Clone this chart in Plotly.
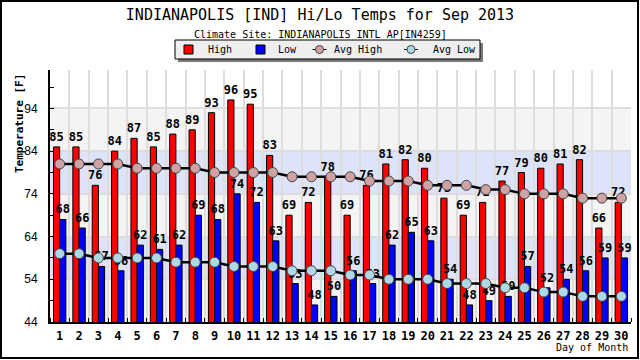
import plotly.graph_objects as go

days = list(range(1, 31))
high = [85, 85, 76, 84, 87, 85, 88, 89, 93, 96, 95, 83, 69, 72, 78, 69, 76, 81, 82, 80,
        73, 69, 72, 77, 79, 80, 81, 82, 66, 72]
low = [68, 66, 57, 56, 62, 61, 62, 69, 68, 74, 72, 63, 53, 48, 50, 56, 53, 62, 65, 63,
       54, 48, 49, 50, 57, 52, 54, 56, 59, 59]
avg_high = [81, 81, 81, 81, 80, 80, 80, 80, 79, 79, 79, 79, 78, 78, 78, 78, 77, 77, 77, 76,
            76, 76, 75, 75, 74, 74, 74, 73, 73, 73]
avg_low = [60, 60, 59, 59, 59, 59, 58, 58, 58, 57, 57, 57, 56, 56, 56, 55, 55, 54, 54, 54,
           53, 53, 53, 52, 52, 51, 51, 50, 50, 50]
y_ticks = [44, 54, 64, 74, 84, 94]
series_names = ["High", "Low", "Avg High", "Avg Low"]
bands = [(44, 54, "#f4f4f4"), (54, 64, "#dde4fa"), (64, 74, "#f4f4f4"),
         (74, 84, "#dde4fa"), (84, 94, "#f4f4f4")]

HIGH_C, LOW_C, AVGH_C, AVGL_C = "#ff0000", "#0000ff", "#cfa3a3", "#add8e6"

W, H = 640, 360
ML, MR, MT, MB = 50, 9, 70, 38
PW, PH = W - ML - MR, H - MT - MB


def px2x(px):
    return (px - ML) / PW


def px2y(py):
    return 1 - (py - MT) / PH


MONO = "DejaVu Sans Mono"

fig = go.Figure()
fig.add_trace(go.Bar(
    x=days, y=high, name=series_names[0], marker=dict(color=HIGH_C, line=dict(color="black", width=1)),
    text=high, textposition="outside", constraintext="none", cliponaxis=False,
    textfont=dict(family=MONO, size=12, color="black", weight="bold"),
))
fig.add_trace(go.Bar(
    x=days, y=low, name=series_names[1], marker=dict(color=LOW_C, line=dict(color="black", width=1)),
    text=low, textposition="outside", constraintext="none", cliponaxis=False,
    textfont=dict(family=MONO, size=12, color="black", weight="bold"),
))
fig.add_trace(go.Scatter(
    x=days, y=avg_high, name=series_names[2], mode="lines+markers",
    line=dict(color="black", width=2.5),
    marker=dict(symbol="circle", size=10, color=AVGH_C, line=dict(color="#444", width=1)),
))
fig.add_trace(go.Scatter(
    x=days, y=avg_low, name=series_names[3], mode="lines+markers",
    line=dict(color="black", width=2.5),
    marker=dict(symbol="circle", size=10, color=AVGL_C, line=dict(color="#444", width=1)),
))

shapes = []
for y0, y1, c in bands:
    shapes.append(dict(type="rect", xref="paper", yref="y", x0=0, x1=1, y0=y0, y1=y1,
                       fillcolor=c, line=dict(width=0), layer="below"))


def prect(x0, y0, x1, y1, **kw):
    d = dict(type="rect", xref="paper", yref="paper", x0=px2x(x0), x1=px2x(x1),
             y0=px2y(y1), y1=px2y(y0), layer="above")
    d.update(kw)
    return d


# legend box (drawn by hand to match the original layout)
lx0, ly0, lx1, ly1 = 175, 40, 480, 59
shapes.append(prect(lx0 + 3, ly0 + 3, lx1 + 3, ly1 + 3, fillcolor="#7a7a7a", line=dict(width=0)))
shapes.append(prect(lx0, ly0, lx1, ly1, fillcolor="#eeeeee", line=dict(color="black", width=1)))
ly = (ly0 + ly1) / 2
shapes.append(prect(184, ly - 4.5, 193, ly + 4.5, fillcolor=HIGH_C, line=dict(color="black", width=1)))
shapes.append(prect(256, ly - 4.5, 265, ly + 4.5, fillcolor=LOW_C, line=dict(color="black", width=1)))
for cx, col in [(319.5, AVGH_C), (411, AVGL_C)]:
    shapes.append(dict(type="line", xref="paper", yref="paper", x0=px2x(cx - 7), x1=px2x(cx + 7),
                       y0=px2y(ly), y1=px2y(ly), line=dict(color="black", width=1), layer="above"))
    shapes.append(dict(type="circle", xref="paper", yref="paper", x0=px2x(cx - 4), x1=px2x(cx + 4),
                       y0=px2y(ly + 4), y1=px2y(ly - 4), fillcolor=col,
                       line=dict(color="#444", width=1), layer="above"))

# outer frame
shapes.append(prect(1, 1, W - 2, H - 2, line=dict(color="black", width=2), fillcolor="rgba(0,0,0,0)"))

annotations = [
    dict(text="Climate Site: INDIANAPOLIS INTL AP[IN4259]", xref="paper", yref="paper",
         x=px2x(320), y=px2y(34), showarrow=False, xanchor="center", yanchor="middle",
         font=dict(family=MONO, size=10, color="black")),
    dict(text="Temperature [F]", xref="paper", yref="paper", x=px2x(19), y=px2y(124),
         showarrow=False, textangle=-90, xanchor="center", yanchor="middle",
         font=dict(family=MONO, size=11, color="black", weight="bold")),
    dict(text="Day of Month", xref="paper", yref="paper", x=px2x(630), y=px2y(347),
         showarrow=False, xanchor="right", yanchor="middle",
         font=dict(family=MONO, size=10, color="black")),
]
for name, tx in zip(series_names, [206, 276, 332, 431]):
    annotations.append(dict(text=name, xref="paper", yref="paper", x=px2x(tx), y=px2y(ly),
                            showarrow=False, xanchor="left", yanchor="middle",
                            font=dict(family=MONO, size=10, color="black")))

fig.update_layout(
    width=W, height=H,
    margin=dict(l=ML, r=MR, t=MT, b=MB, pad=0),
    paper_bgcolor="white", plot_bgcolor="white",
    barmode="group", bargap=0.36, bargroupgap=0,
    title=dict(text="INDIANAPOLIS [IND] Hi/Lo Temps for Sep 2013", x=0.5, xref="container",
               y=1 - 15 / H, yref="container", xanchor="center", yanchor="middle",
               font=dict(family=MONO, size=15, color="black")),
    showlegend=False,
    shapes=shapes, annotations=annotations,
    xaxis=dict(range=[0.5, 30.5], tickmode="array", tickvals=days, ticktext=[str(d) for d in days],
               ticks="", showgrid=False, zeroline=False, showline=True, linecolor="black", linewidth=2,
               tickfont=dict(family=MONO, size=12, color="black", weight="bold"), ticklabelstandoff=2,
               minor=dict(tickmode="array", tickvals=[d + 0.5 for d in range(0, 31)], ticks="inside",
                          ticklen=4, tickcolor="black", showgrid=True, gridcolor="#dddddd", gridwidth=2),
               fixedrange=True),
    yaxis=dict(range=[44, 103], tickmode="array", tickvals=y_ticks, ticks="inside", ticklen=4,
               tickcolor="black", showgrid=True, gridcolor="#dddddd", gridwidth=1.5, zeroline=False,
               showline=True, linecolor="black", linewidth=2, ticklabelstandoff=8,
               tickfont=dict(family="Liberation Sans", size=12, color="black"),
               minor=dict(tickmode="array", tickvals=[49, 59, 69, 79, 89, 99], ticks="inside",
                          ticklen=4, tickcolor="black", showgrid=False),
               fixedrange=True),
)

fig.write_html("out.html", config={"displayModeBar": False},
               post_script="document.body.style.margin='0px';")
